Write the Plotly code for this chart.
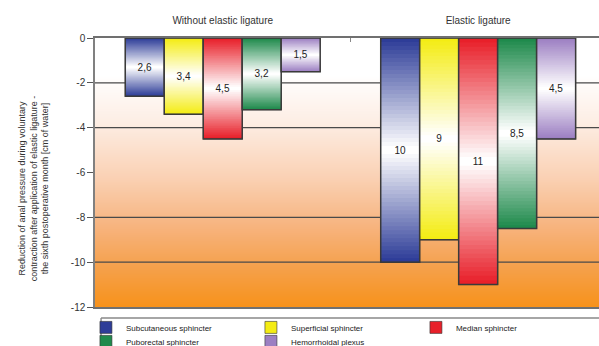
import struct
import zlib
import base64
import plotly.graph_objects as go

# Categories and series (reduction of anal pressure, cm of water)
groups = ["Without elastic ligature", "Elastic ligature"]
series_names = [
    "Subcutaneous sphincter",
    "Superficial sphincter",
    "Median sphincter",
    "Puborectal sphincter",
    "Hemorrhoidal plexus",
]
subcutaneous = [2.6, 10]
superficial = [3.4, 9]
median = [4.5, 11]
puborectal = [3.2, 8.5]
hemorrhoidal = [1.5, 4.5]
series_values = [subcutaneous, superficial, median, puborectal, hemorrhoidal]
series_colors = ["#2E3D98", "#F4EC14", "#E8202A", "#1F8A4C", "#9C7FC2"]
# legend rows: first three entries on the top row, the rest below
series_legend = ["legend", "legend", "legend", "legend2", "legend2"]

y_ticks = [0, -2, -4, -6, -8, -10, -12]
y_tick_labels = ["0", "-2", "-4", "-6", "-8", "-10", "-12"]
grid_values = [-2, -4, -8, -10]

FONT = "Liberation Sans, Arial, sans-serif"
N_LAYERS = 28


def hex_to_rgb(h):
    h = h.lstrip("#")
    return tuple(int(h[i:i + 2], 16) for i in (0, 2, 4))


def mix_white(h, t):
    r, g, b = hex_to_rgb(h)
    return "rgb({:.0f},{:.0f},{:.0f})".format(
        r + (255 - r) * t, g + (255 - g) * t, b + (255 - b) * t)


def fmt(v):
    return ("%g" % v).replace(".", ",")


def gradient_png(stops, height=270):
    """1-pixel-wide vertical gradient PNG as a data URI."""
    rows = []
    for i in range(height):
        p = i / (height - 1)
        for j in range(len(stops) - 1):
            p0, c0 = stops[j]
            p1, c1 = stops[j + 1]
            if p0 <= p <= p1:
                t = 0 if p1 == p0 else (p - p0) / (p1 - p0)
                a, b = hex_to_rgb(c0), hex_to_rgb(c1)
                rows.append(bytes(int(round(a[k] + (b[k] - a[k]) * t)) for k in range(3)))
                break
    raw = b"".join(b"\x00" + r for r in rows)

    def chunk(tag, data):
        return (struct.pack(">I", len(data)) + tag + data +
                struct.pack(">I", zlib.crc32(tag + data) & 0xFFFFFFFF))

    png = (b"\x89PNG\r\n\x1a\n" +
           chunk(b"IHDR", struct.pack(">IIBBBBB", 1, height, 8, 2, 0, 0, 0)) +
           chunk(b"IDAT", zlib.compress(raw)) + chunk(b"IEND", b""))
    return "data:image/png;base64," + base64.b64encode(png).decode()


fig = go.Figure()

for s, (name, vals, col, leg) in enumerate(
        zip(series_names, series_values, series_colors, series_legend)):
    # nested bars: full colour at the ends fading to white in the middle
    for k in range(N_LAYERS):
        t = k / (N_LAYERS - 1)
        f = 1 - k / N_LAYERS
        fig.add_trace(go.Bar(
            x=groups,
            y=[-v * f for v in vals],
            base=[-(v / 2) * (1 - f) for v in vals],
            offsetgroup=str(s),
            name=name,
            showlegend=(k == 0),
            legend=leg,
            legendgroup=name,
            marker=dict(color=mix_white(col, t),
                        line=dict(width=0.6 if k == 0 else 0, color="#333")),
            hoverinfo="skip",
        ))
    # outline and value label
    fig.add_trace(go.Bar(
        x=groups,
        y=[-v for v in vals],
        offsetgroup=str(s),
        showlegend=False,
        legendgroup=name,
        marker=dict(color="rgba(0,0,0,0)", line=dict(color="#3a3a3a", width=1.5)),
        text=[fmt(v) for v in vals],
        textposition="inside",
        insidetextanchor="middle",
        textangle=0,
        constraintext="none",
        textfont=dict(family=FONT, size=10, color="#222"),
        hovertemplate="%{x}: %{text}<extra>" + name + "</extra>",
    ))

bg_stops = [
    (0.0, "#FFFFFF"), (0.14, "#FFFFFF"), (0.32, "#FDEDE3"),
    (0.52, "#FAD1B4"), (0.70, "#F7B47F"), (0.84, "#F5A250"), (1.0, "#F7921B"),
]

legend_style = dict(
    orientation="h", xanchor="left", yanchor="top",
    borderwidth=0, bgcolor="rgba(255,255,255,0)",
    font=dict(family=FONT, size=8, color="#222"),
    entrywidth=120, itemwidth=30, traceorder="normal",
)

shapes = [dict(type="line", xref="paper", x0=0, x1=1, yref="y", y0=g, y1=g,
               layer="between", line=dict(color="#4a4a4a", width=1.2))
          for g in grid_values]
# frame around the legend (top and left edges; the rest runs off the page)
shapes += [
    dict(type="line", xref="paper", yref="paper", x0=0.012, x1=1.0,
         y0=-0.041, y1=-0.041, layer="above", line=dict(color="#888", width=1.4)),
    dict(type="line", xref="paper", yref="paper", x0=0.012, x1=0.012,
         y0=-0.041, y1=-0.15, layer="above", line=dict(color="#888", width=1.4)),
]

fig.update_layout(
    width=599, height=346,
    margin=dict(l=95, r=0, t=38, b=39, autoexpand=False),
    paper_bgcolor="white",
    plot_bgcolor="rgba(0,0,0,0)",
    barmode="group",
    bargap=0.237,
    bargroupgap=0,
    font=dict(family=FONT, size=9, color="#333"),
    images=[dict(
        source=gradient_png(bg_stops), xref="paper", yref="paper",
        x=0, y=1, sizex=1, sizey=1, xanchor="left", yanchor="top",
        sizing="stretch", layer="below",
    )],
    shapes=shapes,
    xaxis=dict(
        side="top", range=[-0.5, 1.473],
        showline=True, mirror=True, linecolor="#707070", linewidth=1.5,
        ticks="inside", tickson="boundaries", ticklen=4, tickcolor="#888",
        ticklabelstandoff=8,
        tickfont=dict(size=10, color="#333"),
        showgrid=False, fixedrange=True,
    ),
    yaxis=dict(
        range=[-12, 0], tickvals=y_ticks, ticktext=y_tick_labels,
        showline=True, linecolor="#808080", linewidth=1.5,
        ticks="outside", ticklen=6, tickcolor="#555",
        tickfont=dict(size=10, color="#333"),
        showgrid=False, zeroline=False, fixedrange=True,
    ),
    legend=dict(x=-0.018, y=-0.022, **legend_style),
    legend2=dict(x=-0.018, y=-0.074, **legend_style),
    annotations=[dict(
        text=("Reduction of anal pressure during voluntary<br>"
              "contraction after application of elastic ligature -<br>"
              "the sixth postoperative month [cm of water]"),
        xref="paper", yref="paper", x=-0.085, y=0.44,
        xanchor="right", yanchor="middle", textangle=-90,
        showarrow=False, align="center",
        font=dict(family=FONT, size=9, color="#333"),
    )],
)

fig.write_html("out.html")
